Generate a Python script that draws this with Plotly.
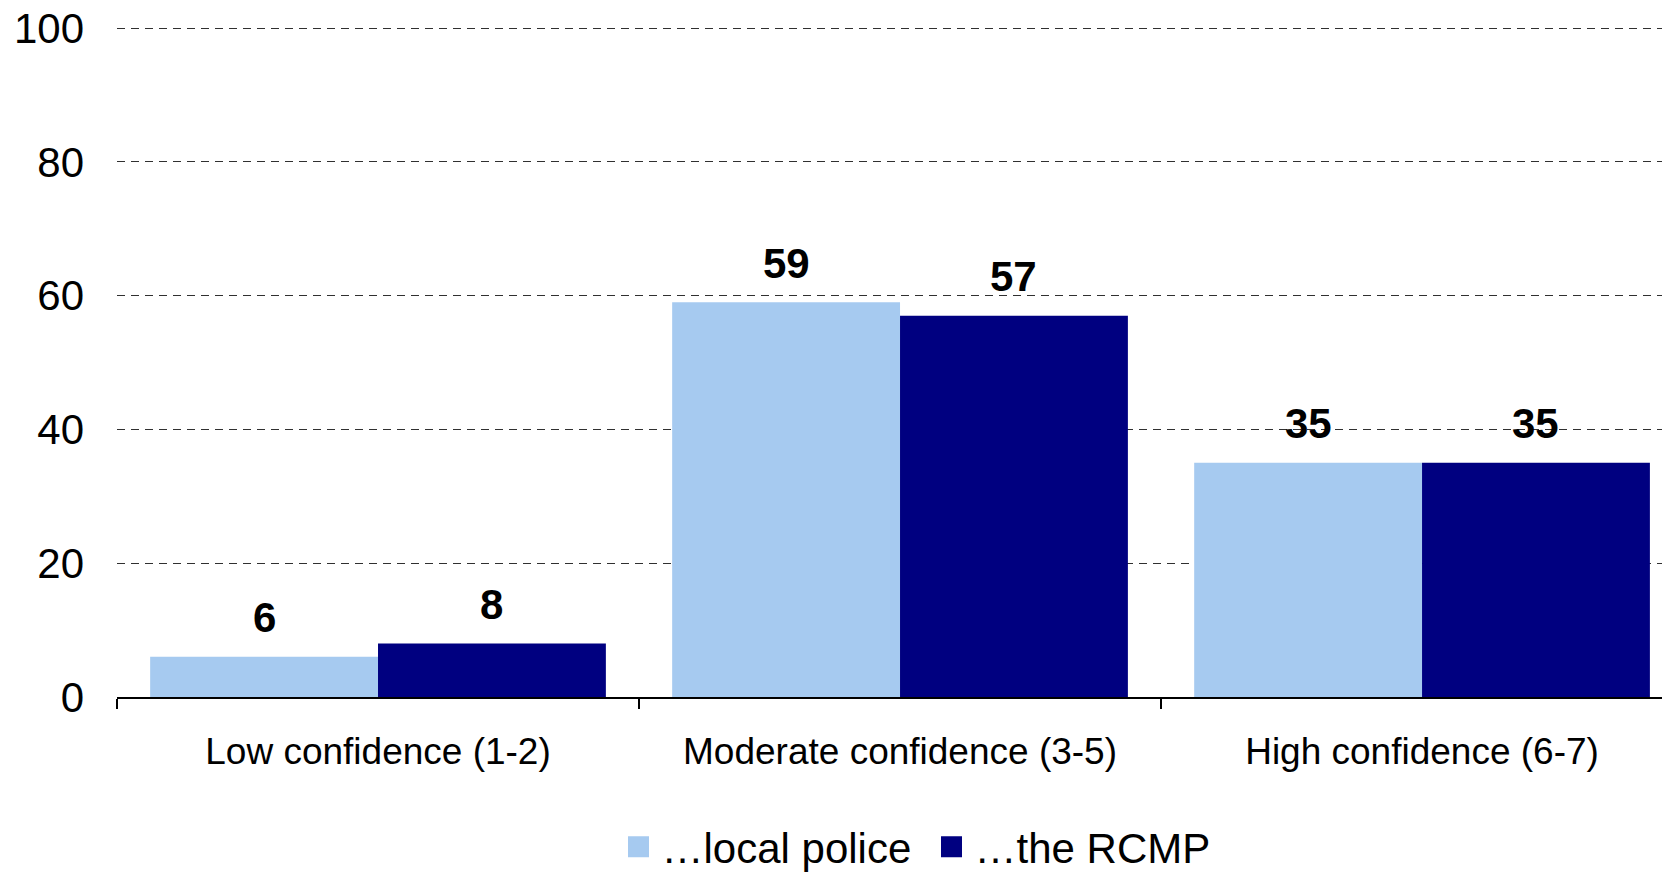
import plotly.graph_objects as go

categories = ["Low confidence (1-2)", "Moderate confidence (3-5)", "High confidence (6-7)"]
local_police = [6, 59, 35]
rcmp = [8, 57, 35]
series_names = ["…local police", "…the RCMP"]
y_ticks = [0, 20, 40, 60, 80, 100]

light = "#A6CAF0"
dark = "#000080"
font_family = "Liberation Sans, Arial, sans-serif"

fig = go.Figure()
fig.add_trace(go.Bar(x=categories, y=local_police, name=series_names[0],
                     marker=dict(color=light, line=dict(width=0)), showlegend=False))
fig.add_trace(go.Bar(x=categories, y=rcmp, name=series_names[1],
                     marker=dict(color=dark, line=dict(width=0)), showlegend=False))

# legend proxies (larger square icons)
for name, col in zip(series_names, [light, dark]):
    fig.add_trace(go.Scatter(x=[None], y=[None], mode="markers", name=name,
                             marker=dict(symbol="square", size=24, color=col,
                                         line=dict(color=col, width=5))))

W, H = 1662, 864
L, T, B = 109, 18, 175
cat_px = (W - L) / (2.475 + 0.5)
bar_w = 0.4365
off_px = bar_w / 2 * cat_px
for cat, v1, v2 in zip(categories, local_police, rcmp):
    for v, sgn in ((v1, -1), (v2, 1)):
        fig.add_annotation(x=cat, y=v, text=str(v), showarrow=False,
                           xshift=sgn * off_px, yshift=39, yanchor="middle",
                           font=dict(family=font_family, size=42, color="black", weight="bold"))

fig.update_layout(
    template="none",
    width=W, height=H,
    margin=dict(l=L, r=0, t=T, b=B, pad=0),
    paper_bgcolor="white", plot_bgcolor="white",
    barmode="group", bargap=0.127, bargroupgap=0,
    font=dict(family=font_family, color="black"),
    legend=dict(orientation="h", x=0.321, xanchor="left",
                yref="container", y=(H - 839) / H, yanchor="middle",
                font=dict(size=42, family=font_family), itemsizing="trace",
                bgcolor="rgba(0,0,0,0)", tracegroupgap=0, itemwidth=36, borderwidth=0,
                entrywidth=262, entrywidthmode="pixels"),
)
fig.update_xaxes(
    type="category", range=[-0.5, 2.475], automargin=False,
    showline=True, linecolor="black", linewidth=2,
    ticks="outside", tickson="boundaries", ticklen=10, tickwidth=2, tickcolor="black",
    tickfont=dict(size=37, family=font_family), ticklabelstandoff=21,
    showgrid=False, zeroline=False,
)
fig.update_yaxes(
    range=[0, 100.3], tickvals=y_ticks, automargin=False, ticklabeloverflow="allow",
    showgrid=True, gridcolor="#303030", gridwidth=1, griddash="8px,6px",
    showline=False, zeroline=False, ticks="",
    tickfont=dict(size=42, family=font_family), ticklabelstandoff=32,
)

fig.write_html("out.html")
